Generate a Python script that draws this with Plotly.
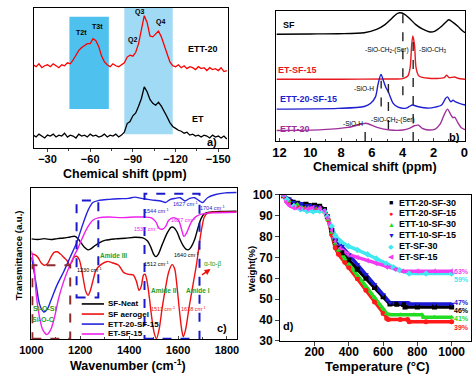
import plotly.graph_objects as go

W, H = 474, 380
FONT = "Liberation Sans, Arial, Helvetica, sans-serif"

def P(x, y):
    return x / W, 1 - y / H

# ---------------- Panel a : 29Si NMR ----------------
a_shift = [-20, -22, -24, -26, -28, -30, -32, -34, -36, -38, -40, -42, -44, -46, -48, -50, -52, -54,
           -56, -58, -60, -62, -64, -66, -68, -70, -72, -74, -76, -78, -80, -82, -84, -86, -88, -90,
           -92, -94, -96, -98, -100, -102, -104, -106, -108, -110, -112, -114, -116, -118, -120,
           -122, -124, -126, -128, -130, -132, -134, -136, -138, -140, -142, -144, -146, -148, -150,
           -152, -154, -156]
a_ett20 = [86, 84, 87, 83, 85, 86, 84, 87, 85, 83, 86, 85, 88, 87, 91, 96, 101, 104, 106, 108, 108,
           113, 111, 105, 95, 89, 86, 84, 87, 85, 84, 86, 88, 94, 96, 95, 99, 108, 124, 137, 130, 116,
           115, 118, 121, 115, 106, 97, 89, 85, 84, 86, 83, 85, 82, 84, 83, 81, 84, 82, 83, 80, 83,
           81, 82, 80, 83, 79, 80]
a_et = [13, 11, 14, 12, 10, 13, 12, 14, 11, 13, 12, 15, 11, 13, 12, 10, 14, 12, 13, 11, 14, 12, 13,
        11, 12, 14, 11, 13, 12, 14, 11, 13, 16, 25, 27, 33, 36, 43, 51, 63, 58, 50, 46, 44, 47, 43,
        38, 32, 26, 22, 20, 18, 17, 15, 16, 13, 14, 12, 13, 11, 13, 12, 10, 13, 11, 12, 10, 12, 9]
a_ticks = [-30, -60, -90, -120, -150]
a_band_lo = [-45.4, -84.0]
a_band_hi = [-73.1, -118.0]
a_band_y0 = [40, 14]
a_band_y1 = [136, 145]

# ---------------- Panel b : 1H NMR ----------------
b_sf_x = [12.2, 10, 8.2, 6.5, 5.7, 5.15, 4.7, 4.4, 4.2, 3.9, 3.57, 3.15, 2.73, 2.2, 1.9, 1.47, 1.15,
          1.0, 0.73, 0.42, 0.1, -0.05]
b_sf_y = [110.7, 111, 111.3, 112.3, 115.7, 120.7, 127.3, 131.7, 133, 131.7, 127.3, 120.7, 116.3,
          113, 114, 119, 124, 125.7, 123, 119, 114, 112.3]
b_etsf_x = [12.2, 8, 5, 4.0, 3.67, 3.52, 3.42, 3.34, 3.23, 3.13, 2.94, 2.31, 1.3, 1.15, 1.0, 0.63,
            0.42, -0.05]
b_etsf_y = [64, 64, 64.3, 64.7, 67.3, 75.7, 99, 109, 99, 75.7, 67.3, 65, 65.7, 68.3, 65.7, 66.3, 65, 64]
b_ettsf_x = [12.2, 8.2, 6.5, 6.08, 5.77, 5.6, 5.41, 5.25, 5.1, 4.93, 4.62, 4.3, 3.78, 3.57, 3.36,
             3.04, 2.31, 1.89, 1.47, 1.22, 1.09, 0.88, 0.73, 0.59, 0.31, -0.05]
b_ettsf_y = [33, 33.7, 35.7, 39, 45.7, 59, 69, 62.3, 55.7, 50.7, 39, 35, 34, 35.7, 37.3, 35.7, 34,
             35, 37.3, 44, 45.7, 40.7, 42.3, 40.7, 39, 37.3]
b_ett_x = [12.2, 9.2, 7.55, 6.71, 6.4, 5.67, 4.83, 3.99, 3.57, 3.25, 2.98, 2.73, 2.31, 1.89, 1.57,
           1.3, 1.09, 0.88, 0.73, 0.63, 0.42, 0.21, -0.05]
b_ett_y = [10.7, 11.7, 14, 17.3, 18.3, 14, 11.3, 11.3, 13, 15.7, 16.3, 13, 11.3, 12.3, 17.3, 27.3,
           33, 27.3, 24, 24.7, 19, 14, 11.7]
b_dash_ppm = [3.99, 3.32, 5.4, 4.93, 6.44]
b_dash_lo = [47.3, 0, 35.7, 12.3, 0]
b_dash_hi = [133, 107.3, 62.3, 59, 17.3]

# ---------------- Panel c : FTIR ----------------
c_names = ["SF-Neat", "SF aerogel", "ETT-20-SF-15", "ET-SF-15"]
c_colors = ["#000000", "#EE1111", "#2424DD", "#EE22EE"]
c_neat_x = [1000, 1026.5, 1052.9, 1079.4, 1105.8, 1132.3, 1158.7, 1178.6, 1191.8, 1205, 1218.3,
            1231.5, 1244.7, 1257.9, 1277.8, 1304.2, 1343.9, 1383.6, 1423.3, 1456.3, 1476.2, 1489.4,
            1500, 1509.3, 1519.8, 1535.7, 1555.6, 1571.4, 1582, 1595.2, 1608.5, 1621.7, 1632.3,
            1641.5, 1652.1, 1668, 1681.2, 1694.4, 1707.7, 1727.5, 1767.2, 1840]
c_neat_y = [312, 310, 313, 310, 313, 315, 318, 320, 312, 298, 285, 278, 282, 290, 300, 308, 312, 314,
            317, 315, 305, 285, 265, 257, 265, 295, 330, 348, 348, 335, 310, 290, 280, 278, 285, 310,
            345, 375, 390, 395, 397, 398]
c_aer_x = [1000, 1013.2, 1026.5, 1039.7, 1052.9, 1066.1, 1079.4, 1092.6, 1105.8, 1119, 1132.3,
           1145.5, 1156.1, 1165.3, 1174.6, 1185.2, 1195.8, 1205, 1214.3, 1222.2, 1231.5, 1240.7,
           1251.3, 1264.6, 1284.4, 1310.8, 1330.7, 1357.1, 1377, 1396.8, 1416.7, 1429.9, 1440.5,
           1449.7, 1459, 1465.6, 1473.5, 1482.8, 1492.1, 1502.6, 1511.9, 1522.5, 1535.7, 1548.9,
           1562.2, 1575.4, 1586, 1595.2, 1605.8, 1615.1, 1621.7, 1631, 1645.5, 1661.4, 1677.2,
           1687.8, 1698.4, 1707.7, 1720.9, 1754, 1840]
c_aer_y = [265, 263, 255, 238, 230, 235, 255, 270, 272, 265, 255, 245, 232, 240, 255, 258, 248, 220,
           180, 150, 137, 150, 180, 215, 232, 242, 238, 230, 208, 202, 200, 180, 152, 165, 200, 202,
           180, 130, 70, 20, 2, 30, 100, 160, 210, 232, 220, 170, 90, 30, 8, 30, 100, 170, 240, 300,
           350, 380, 392, 395, 396]
c_ettsf_x = [1000, 1006.6, 1019.8, 1033, 1050.3, 1066.1, 1079.4, 1105.8, 1132.3, 1158.7, 1185.2,
             1211.6, 1231.5, 1251.3, 1277.8, 1317.5, 1357.1, 1396.8, 1423.3, 1449.7, 1476.2, 1502.6,
             1529.1, 1548.9, 1568.8, 1588.6, 1608.5, 1628.3, 1648.1, 1668, 1687.8, 1701.1, 1720.9,
             1754, 1793.7, 1840]
c_ettsf_y = [255, 230, 170, 110, 85, 95, 120, 170, 210, 255, 300, 360, 400, 425, 432, 435, 437, 438,
             442, 438, 435, 432, 430, 425, 435, 438, 440, 430, 438, 440, 430, 425, 440, 450, 455, 456]
c_etsf_x = [1000, 1010.6, 1019.8, 1033, 1046.3, 1063.5, 1079.4, 1095.2, 1112.4, 1132.3, 1152.1,
            1172, 1191.8, 1211.6, 1231.5, 1251.3, 1277.8, 1317.5, 1370.4, 1423.3, 1463, 1489.4,
            1509.3, 1522.5, 1535.7, 1548.9, 1562.2, 1582, 1601.9, 1615.1, 1624.3, 1634.9, 1654.8,
            1674.6, 1701.1, 1740.7, 1840]
c_etsf_y = [275, 230, 140, 70, 30, 15, 30, 70, 130, 180, 220, 255, 285, 320, 350, 370, 378, 380, 378,
            380, 380, 378, 365, 345, 342, 350, 370, 378, 370, 340, 320, 330, 365, 382, 390, 393, 395]
c_box_x0 = [1185, 1463, 1004]
c_box_x1 = [1274, 1688, 1159]
c_box_y0 = [130, 2, 2]
c_box_y1 = [431, 452, 230]

# ---------------- Panel d : TGA ----------------
d_names = ["ETT-20-SF-30", "ETT-20-SF-15", "ETT-10-SF-30", "ETT-10-SF-15", "ET-SF-30", "ET-SF-15"]
d_t = [
    [20, 50, 75, 100, 150, 200, 230, 258, 275, 300, 321, 340, 359, 400, 450, 500, 550, 600, 640, 680,
     720, 728, 800, 900, 1000],
    [20, 50, 100, 155, 200, 230, 258, 280, 300, 321, 340, 377, 400, 450, 500, 550, 600, 621, 630, 700,
     743, 752, 850, 1000],
    [20, 50, 100, 155, 200, 230, 258, 280, 300, 321, 340, 377, 400, 450, 500, 550, 600, 621, 640, 700,
     780, 827, 835, 900, 1000],
    [20, 50, 80, 120, 155, 200, 230, 258, 275, 300, 321, 340, 359, 400, 450, 500, 550, 600, 640, 700,
     745, 752, 800, 900, 1000],
    [20, 40, 80, 117, 155, 192, 230, 258, 275, 300, 321, 350, 397, 450, 509, 560, 621, 660, 696, 752,
     850, 1000],
    [20, 35, 52, 80, 118, 160, 192, 230, 258, 275, 300, 321, 350, 397, 450, 509, 560, 621, 670, 715,
     800, 900, 1000],
]
d_w = [
    [99.5, 97.5, 96.5, 96, 95.5, 95, 94.5, 93, 89.5, 83, 77.5, 74.5, 72.3, 68.7, 64.3, 60, 55.6, 51.2,
     47.7, 47.6, 47.5, 46.3, 46.3, 46.3, 46.3],
    [99.5, 97, 95, 94, 93.8, 93.5, 92, 88, 81, 74.6, 71.5, 67.7, 65.2, 59.8, 54.3, 48.7, 43.2, 40.8,
     40.3, 40.3, 40.3, 39.2, 39.2, 39.2],
    [99.5, 97, 95.5, 94.5, 94, 93.8, 92, 88, 82, 76.9, 73.5, 69.2, 66.7, 61.4, 56.1, 50.8, 45.4, 43.1,
     42.6, 42.6, 42.6, 42.6, 41.3, 41.3, 41.3],
    [99.5, 98, 96.5, 95.8, 95, 94.5, 94, 92.5, 89.5, 83.5, 78.5, 77, 75.4, 71.4, 66.6, 61.8, 57, 52.2,
     48.3, 48.3, 48.3, 47.7, 47.7, 47.7, 47.7],
    [100, 97.7, 94.6, 93.1, 92.3, 92, 92.3, 92, 89.5, 85, 80.5, 77.8, 75.4, 73.6, 71.5, 69.5, 66.9,
     65.2, 63.9, 62.3, 62.3, 62.3],
    [100, 96.5, 95, 93.8, 93.5, 93.3, 93.8, 93.5, 92.3, 89, 83, 77.7, 74.5, 71.5, 70, 68.5, 67, 65.4,
     64.3, 63.4, 63.4, 63.4, 63.4],
]
d_colors = ["#000000", "#FF1A1A", "#22DD22", "#1A1AD6", "#40E8F0", "#F23CF2"]
d_symbols = ["square", "circle", "triangle-up", "triangle-down", "diamond", "triangle-left"]
d_glyphs = ["\u25A0", "\u25CF", "\u25B2", "\u25BC", "\u25C6", "\u25C0"]
d_final = ["46%", "39%", "41%", "47%", "59%", "63%"]
d_ticks = [200, 400, 600, 800, 1000]

fig = go.Figure()

# panel a traces
fig.add_trace(go.Scatter(x=a_shift, y=a_ett20, mode="lines", line=dict(color="#FF0000", width=1.3),
                         xaxis="x", yaxis="y", showlegend=False))
fig.add_trace(go.Scatter(x=a_shift, y=a_et, mode="lines", line=dict(color="#000000", width=1.3),
                         xaxis="x", yaxis="y", showlegend=False))

# panel b traces
for xs, ys, col in [(b_sf_x, b_sf_y, "#000000"), (b_etsf_x, b_etsf_y, "#E8191E"),
                    (b_ettsf_x, b_ettsf_y, "#1F1FD0"), (b_ett_x, b_ett_y, "#A0309A")]:
    fig.add_trace(go.Scatter(x=xs, y=ys, mode="lines", line=dict(color=col, width=1.4, shape="spline",
                                                                 smoothing=0.8),
                             xaxis="x2", yaxis="y2", showlegend=False))

# panel c traces
for xs, ys, col, nm in [(c_neat_x, c_neat_y, c_colors[0], c_names[0]),
                        (c_aer_x, c_aer_y, c_colors[1], c_names[1]),
                        (c_ettsf_x, c_ettsf_y, c_colors[2], c_names[2]),
                        (c_etsf_x, c_etsf_y, c_colors[3], c_names[3])]:
    fig.add_trace(go.Scatter(x=xs, y=ys, mode="lines", name=nm,
                             line=dict(color=col, width=1.4, shape="spline", smoothing=0.8),
                             xaxis="x3", yaxis="y3", showlegend=False))

# panel d traces
for i in range(6):
    fig.add_trace(go.Scatter(x=d_t[i], y=d_w[i], mode="lines", line=dict(color=d_colors[i], width=3.5),
                             xaxis="x4", yaxis="y4", showlegend=False, hoverinfo="skip"))
for i in range(6):
    fig.add_trace(go.Scatter(x=d_t[i], y=d_w[i], mode="markers", name=d_names[i],
                             marker=dict(color=d_colors[i], symbol=d_symbols[i], size=5),
                             xaxis="x4", yaxis="y4", showlegend=False))

shapes = []
band_cols = ["rgba(70,190,238,0.95)", "rgba(150,214,243,0.9)"]
for i in range(2):
    shapes.append(dict(type="rect", xref="x", yref="y", x0=a_band_lo[i], x1=a_band_hi[i],
                       y0=a_band_y0[i], y1=a_band_y1[i], fillcolor=band_cols[i], line=dict(width=0),
                       layer="below"))
for i in range(len(b_dash_ppm)):
    shapes.append(dict(type="line", xref="x2", yref="y2", x0=b_dash_ppm[i], x1=b_dash_ppm[i],
                       y0=b_dash_lo[i], y1=b_dash_hi[i], line=dict(color="#222222", width=1.4, dash="dash")))
box_cols = ["#1A1ACC", "#1A1ACC", "#8B2B2B"]
for i in range(3):
    shapes.append(dict(type="rect", xref="x3", yref="y3", x0=c_box_x0[i], x1=c_box_x1[i],
                       y0=c_box_y0[i], y1=c_box_y1[i], line=dict(color=box_cols[i], width=2, dash="dash"),
                       fillcolor="rgba(0,0,0,0)"))

ann = []
def T(text, x, y, color="#000000", size=9, bold=True, angle=0, xanchor="center"):
    px_, py_ = P(x, y)
    ann.append(dict(text=("<b>%s</b>" % text) if bold else text, x=px_, y=py_, xref="paper", yref="paper",
                    showarrow=False, font=dict(family=FONT, size=size, color=color), textangle=angle,
                    xanchor=xanchor, yanchor="middle"))

# panel a labels
T("T2t", 71.7, 26.7, size=7)
T("T3t", 88.3, 20.7, size=7)
T("Q2", 124, 34, size=7)
T("Q3", 131.7, 5, size=7)
T("Q4", 153.3, 16, size=7)
T("ETT-20", 197, 43.3, size=9)
T("ET", 191.7, 116.7, size=9)
T("a)", 206.7, 140, size=11)
T("Chemical shift (ppm)", 116.7, 173, size=12.5)

# panel b labels
T("SF", 286, 18.3, size=9)
T("ET-SF-15", 294.4, 65, color="#E8191E", size=9)
T("ETT-20-SF-15", 306.4, 95.7, color="#1F1FD0", size=9)
T("ETT-20", 292.7, 126.7, color="#A0309A", size=9)
T("-SiO-CH<sub>2</sub>-(Ser)", 387.7, 45, size=6.5, bold=False)
T("-SiO-CH<sub>3</sub>", 434.3, 45, size=6.5, bold=False)
T("-SiO-H", 363, 85, size=6.5, bold=False)
T("-SiO-H", 352, 120.7, size=6.5, bold=False)
T("-SiO-CH<sub>2</sub>-(Ser)", 393.7, 117.3, size=6.5, bold=False)
T("b)", 457, 135, size=11)
T("Chemical shift (ppm)", 375, 166.5, size=12.5)

# panel c labels
G = "#22A022"
T("1230 cm<sup>-1</sup>", 80, 273, size=5.5, bold=False)
T("Amide III", 105, 258, color=G, size=6.5)
T("1544 cm<sup>-1</sup>", 149.3, 211.3, color="#1A1ACC", size=5.5, bold=False)
T("1627 cm<sup>-1</sup>", 179.3, 204.7, color="#1A1ACC", size=5.5, bold=False)
T("1704 cm<sup>-1</sup>", 207.3, 208.7, color="#1A1ACC", size=5.5, bold=False)
T("1537 cm<sup>-1</sup>", 139.3, 230.7, color="#EE22EE", size=5.5, bold=False)
T("1627 cm<sup>-1</sup>", 176.7, 221.3, color="#EE22EE", size=5.5, bold=False)
T("1512 cm<sup>-1</sup>", 149.3, 267.3, size=5.5, bold=False)
T("1640 cm<sup>-1</sup>", 180, 258, size=5.5, bold=False)
T("Amide II", 156, 294, color=G, size=6.5)
T("Amide I", 191.7, 294, color=G, size=6.5)
T("α-to-β", 207.3, 267.3, color=G, size=6.5, bold=False)
T("1511 cm<sup>-1</sup>", 156, 314, color="#EE1111", size=5.5, bold=False)
T("1618 cm<sup>-1</sup>", 187.3, 314, color="#EE1111", size=5.5, bold=False)
T("Si-O-Si", 33.3, 313, color=G, size=7)
T("Si-O-C", 31.7, 324.7, color=G, size=7)
T("c)", 217.3, 333, size=11)
T("Wavenumber (cm<sup>-1</sup>)", 120, 371.7, size=12.5)
T("Transmittance (a.u.)", 7, 258, size=9.5, angle=-90)
hx, hy = P(205, 272)
ann.append(dict(x=hx, y=hy, xref="paper", yref="paper", text="", showarrow=True, ax=-10, ay=7,
                arrowcolor="#EE1111", arrowhead=2, arrowsize=0.8, arrowwidth=1.5))

# panel c legend (line keys + labels)
c_leg_y = [308.3, 318.8, 329.2, 339.5]
for i in range(4):
    x0, y0 = P(72, c_leg_y[i])
    x1, _ = P(95, c_leg_y[i])
    shapes.append(dict(type="line", xref="paper", yref="paper", x0=x0, x1=x1, y0=y0, y1=y0,
                       line=dict(color=c_colors[i], width=1.6)))
    T(c_names[i], 97.5, c_leg_y[i], size=8, xanchor="left")

# panel d legend (marker keys + labels)
d_leg_y = [203, 214.3, 225.6, 236.9, 248.2, 259.5]
for i in range(6):
    T(d_glyphs[i], 391.5, d_leg_y[i], color=d_colors[i], size=7, bold=False)
    T(d_names[i], 398, d_leg_y[i], size=9, xanchor="left")

# panel d labels
lab_y = [315.6, 332.3, 323.9, 307.2, 283.3, 274.3]
for i in range(6):
    T(d_final[i], 464.5, lab_y[i], color=d_colors[i], size=7)
T("d)", 285.3, 331.7, size=11)
T("Temperature (°C)", 377, 373.5, size=13)
T("Weight(%)", 248, 272, size=9.5, angle=-90)

tickfont = lambda s: dict(family=FONT, size=s, color="#000000", weight="bold")
axcommon = dict(showline=True, linecolor="#000000", linewidth=1.2, mirror=True, showgrid=False,
                zeroline=False)

fig.update_layout(
    width=W, height=H, margin=dict(l=0, r=0, t=0, b=0),
    paper_bgcolor="white", plot_bgcolor="white", showlegend=False,
    font=dict(family=FONT, color="#000000"),
    shapes=shapes, annotations=ann,
    xaxis=dict(domain=[22.7 / W, 222.7 / W], range=[-20.5, -156.6], anchor="y", tickvals=a_ticks,
               ticks="outside", ticklen=3, tickfont=tickfont(11), ticklabelstandoff=-2,
               minor=dict(dtick=15, tick0=0, ticks="outside", ticklen=2), **axcommon),
    yaxis=dict(domain=[1 - 146 / H, 1 - 1 / H], range=[0, 145], anchor="x", showticklabels=False,
               ticks="", **axcommon),
    xaxis2=dict(domain=[273 / W, 468 / W], range=[12.21, -0.06], anchor="y2", dtick=2, tick0=0,
                ticks="inside", ticklen=3, tickfont=tickfont(13), ticklabelstandoff=-1,
                minor=dict(dtick=1, tick0=0, ticks="inside", ticklen=2), **axcommon),
    yaxis2=dict(domain=[1 - 139 / H, 1 - 4 / H], range=[0, 135], anchor="x2", showticklabels=False,
                ticks="", **axcommon),
    xaxis3=dict(domain=[20 / W, 232 / W], range=[1000, 1840], anchor="y3", dtick=200, tick0=0,
                ticks="inside", ticklen=3, tickfont=tickfont(11),
                minor=dict(dtick=100, tick0=0, ticks="inside", ticklen=2), **axcommon),
    yaxis3=dict(domain=[1 - 345 / H, 1 - 188 / H], range=[0, 470], anchor="x3", showticklabels=False,
                ticks="", **axcommon),
    xaxis4=dict(domain=[277 / W, 473.5 / W], range=[0, 1110], anchor="y4", tickvals=d_ticks,
                ticks="outside", ticklen=4, tickfont=tickfont(12), ticklabelstandoff=-4, **axcommon),
    yaxis4=dict(domain=[1 - 346.7 / H, 1 - 195 / H], range=[30, 100], anchor="x4", dtick=10,
                ticks="outside", ticklen=4, tickfont=tickfont(12), **axcommon),
)

fig.write_html("out.html", config={"displayModeBar": False},
               post_script="document.body.style.margin='0px';")
